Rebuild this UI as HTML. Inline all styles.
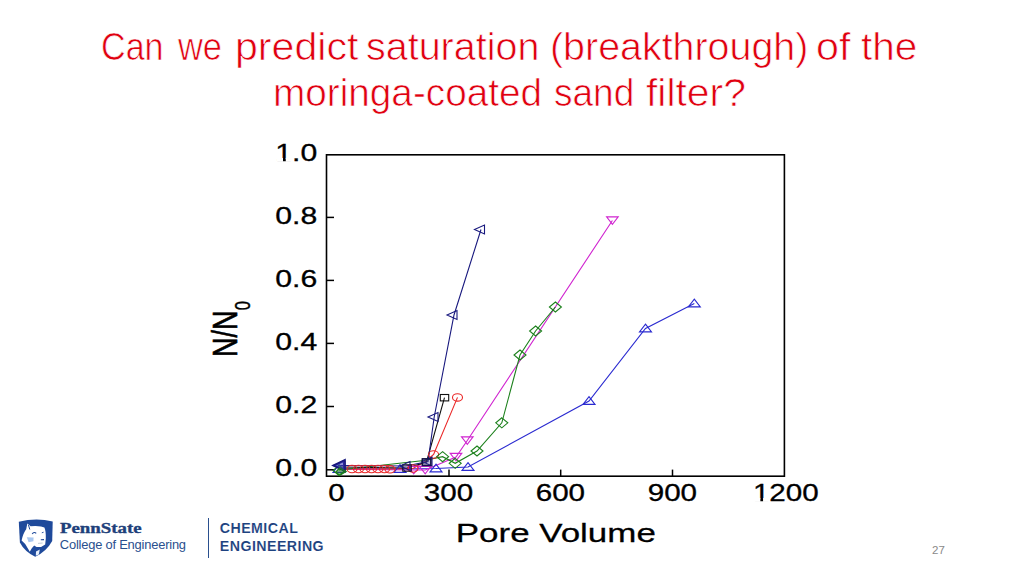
<!DOCTYPE html>
<html><head><meta charset="utf-8">
<style>
html,body{margin:0;padding:0;background:#fff;}
body{width:1024px;height:576px;position:relative;overflow:hidden;font-family:"Liberation Sans",sans-serif;}
.w{position:absolute;transform-origin:0 0;color:#e0000f;font-size:39px;white-space:nowrap;line-height:46px;-webkit-text-stroke:0.7px #fff;}
svg{position:absolute;left:0;top:0;}
</style></head><body>
<div class="w" style="left:101.2px;top:24.1px;transform:scaleX(0.875)">Can</div>
<div class="w" style="left:177.6px;top:24.1px;transform:scaleX(0.883)">we</div>
<div class="w" style="left:234.5px;top:24.1px;transform:scaleX(1.054)">predict</div>
<div class="w" style="left:366.3px;top:24.1px;transform:scaleX(1.012)">saturation</div>
<div class="w" style="left:549.7px;top:24.1px;transform:scaleX(1.010)">(breakthrough)</div>
<div class="w" style="left:816.4px;top:24.1px;transform:scaleX(1.058)">of</div>
<div class="w" style="left:861.2px;top:24.1px;transform:scaleX(1.038)">the</div>
<div class="w" style="left:273.1px;top:69.5px;transform:scaleX(0.993)">moringa-coated</div>
<div class="w" style="left:554.0px;top:69.5px;transform:scaleX(0.949)">sand</div>
<div class="w" style="left:645.5px;top:69.5px;transform:scaleX(1.048)">filter?</div>

<svg width="1024" height="576" viewBox="0 0 1024 576" font-family="Liberation Sans, sans-serif">
<!-- frame -->
<rect x="326.5" y="154.8" width="457.9" height="321.4" fill="none" stroke="#000" stroke-width="1.6"/>
<g stroke="#000" stroke-width="1.5">
<line x1="326" y1="217.4" x2="334" y2="217.4"/>
<line x1="326" y1="280.4" x2="334" y2="280.4"/>
<line x1="326" y1="343.4" x2="334" y2="343.4"/>
<line x1="326" y1="406.5" x2="334" y2="406.5"/>
<line x1="326" y1="469.8" x2="334" y2="469.8"/>
<line x1="449" y1="476" x2="449" y2="469.6"/>
<line x1="560.7" y1="476" x2="560.7" y2="469.6"/>
<line x1="672.5" y1="476" x2="672.5" y2="469.6"/>
</g>
<!-- y labels -->
<g font-size="23.5" fill="#000" stroke="#000" stroke-width="0.3" text-anchor="end">
<g transform="translate(317.3,160.5) scale(1.285,1)"><text>1.0</text><rect x="-31.9" y="-2.5" width="5.2" height="3.8" fill="#fff" stroke="none"/><rect x="-24.55" y="-2.5" width="4.9" height="3.8" fill="#fff" stroke="none"/></g>
<text transform="translate(317.3,224.2) scale(1.285,1)">0.8</text>
<text transform="translate(317.3,287.2) scale(1.285,1)">0.6</text>
<text transform="translate(317.3,349.9) scale(1.285,1)">0.4</text>
<text transform="translate(317.3,412.8) scale(1.285,1)">0.2</text>
<text transform="translate(317.3,476.1) scale(1.285,1)">0.0</text>
</g>
<g font-size="23.5" fill="#000" stroke="#000" stroke-width="0.3" text-anchor="middle">
<text transform="translate(336.4,500.6) scale(1.26,1)">0</text>
<text transform="translate(448.5,500.6) scale(1.26,1)">300</text>
<text transform="translate(560.4,500.6) scale(1.26,1)">600</text>
<text transform="translate(672.4,500.6) scale(1.26,1)">900</text>
<g transform="translate(785.8,500.6) scale(1.26,1)"><text>1200</text><rect x="-25.4" y="-2.5" width="5.2" height="3.8" fill="#fff" stroke="none"/><rect x="-18.05" y="-2.5" width="4.9" height="3.8" fill="#fff" stroke="none"/></g>
</g>
<text font-size="25.5" stroke="#000" stroke-width="0.25" text-anchor="middle" transform="translate(555.8,541.6) scale(1.37,1)">Pore Volume</text>
<text font-size="27" stroke="#000" stroke-width="0.5" transform="translate(237.3,357) scale(1.285,1) rotate(-90)">N/N<tspan font-size="16.5" stroke-width="0.3" dx="0.3" dy="10">0</tspan></text>

<!-- series -->
<g fill="none" stroke-width="1.1">
<polyline stroke="#2a2ad0" points="340,468.5 400,469 436,468.5 468,467 589,401 645.5,328.5 694.3,303.5"/>
<polyline stroke="#d024d0" points="340,469.2 413.7,470 425.2,470 456,457 467.3,440.5 612.4,220.5"/>
<polyline stroke="#ea2626" points="347,469 389,469 413,468.5 426,461 433.6,454.5 457.5,397.4"/>
<polyline stroke="#1c801c" points="339,470 424,460.5 442.6,456.7 455.2,463.3 477,451 501.8,422.8 520,355 535.6,331 555.4,307"/>
<polyline stroke="#101010" points="340,467 407,468 426.5,462 444.5,397.7"/>
<polyline stroke="#18187e" points="340,465.5 406,466 428,461.5 434.2,417 454,315 481,229.5"/>
</g>
<g id="markers" fill="none" stroke-width="1.1"><path d="M339.0,464.7 L345.0,472.4 L333.0,472.4 Z" stroke="#2a2ad0"/><path d="M400.0,464.7 L406.0,472.4 L394.0,472.4 Z" stroke="#2a2ad0"/><path d="M436.0,464.2 L442.0,471.9 L430.0,471.9 Z" stroke="#2a2ad0"/><path d="M468.0,462.7 L474.0,470.4 L462.0,470.4 Z" stroke="#2a2ad0"/><path d="M589.0,396.7 L595.0,404.4 L583.0,404.4 Z" stroke="#2a2ad0"/><path d="M645.5,324.2 L651.5,331.9 L639.5,331.9 Z" stroke="#2a2ad0"/><path d="M694.3,299.2 L700.3,306.9 L688.3,306.9 Z" stroke="#2a2ad0"/><path d="M407.9,466.4 L419.5,466.4 L413.7,473.8 Z" stroke="#d024d0"/><path d="M419.4,466.4 L431.0,466.4 L425.2,473.8 Z" stroke="#d024d0"/><path d="M450.2,453.4 L461.8,453.4 L456.0,460.8 Z" stroke="#d024d0"/><path d="M461.5,436.9 L473.1,436.9 L467.3,444.3 Z" stroke="#d024d0"/><path d="M606.6,216.9 L618.2,216.9 L612.4,224.3 Z" stroke="#d024d0"/><ellipse cx="352.0" cy="469.0" rx="5" ry="3.7" stroke="#ea2626"/><ellipse cx="358.5" cy="469.0" rx="5" ry="3.7" stroke="#ea2626"/><ellipse cx="365.0" cy="469.0" rx="5" ry="3.7" stroke="#ea2626"/><ellipse cx="371.5" cy="469.0" rx="5" ry="3.7" stroke="#ea2626"/><ellipse cx="378.0" cy="469.0" rx="5" ry="3.7" stroke="#ea2626"/><ellipse cx="384.5" cy="469.0" rx="5" ry="3.7" stroke="#ea2626"/><ellipse cx="390.0" cy="469.3" rx="5" ry="3.7" stroke="#ea2626"/><ellipse cx="413.0" cy="468.5" rx="5" ry="3.7" stroke="#ea2626"/><ellipse cx="433.6" cy="454.5" rx="5" ry="3.7" stroke="#ea2626"/><ellipse cx="457.5" cy="397.4" rx="5" ry="3.7" stroke="#ea2626"/><path d="M339.0,465.5 L345.0,470.5 L339.0,475.5 L333.0,470.5 Z" stroke="#1c801c"/><path d="M442.6,451.7 L448.6,456.7 L442.6,461.7 L436.6,456.7 Z" stroke="#1c801c"/><path d="M455.2,458.3 L461.2,463.3 L455.2,468.3 L449.2,463.3 Z" stroke="#1c801c"/><path d="M477.0,446.0 L483.0,451.0 L477.0,456.0 L471.0,451.0 Z" stroke="#1c801c"/><path d="M501.8,417.8 L507.8,422.8 L501.8,427.8 L495.8,422.8 Z" stroke="#1c801c"/><path d="M520.0,350.0 L526.0,355.0 L520.0,360.0 L514.0,355.0 Z" stroke="#1c801c"/><path d="M535.6,326.0 L541.6,331.0 L535.6,336.0 L529.6,331.0 Z" stroke="#1c801c"/><path d="M555.4,302.0 L561.4,307.0 L555.4,312.0 L549.4,307.0 Z" stroke="#1c801c"/><rect x="402.8" y="464.8" width="8.4" height="6.4" stroke="#101010"/><rect x="422.3" y="458.8" width="8.4" height="6.4" stroke="#101010"/><rect x="440.3" y="394.5" width="8.4" height="6.4" stroke="#101010"/><path d="M333.5,465.5 L343.5,461.0 L343.5,470.0 Z" stroke="#18187e"/><path d="M335.0,465.5 L345.0,461.0 L345.0,470.0 Z" stroke="#18187e"/><path d="M400.0,466.0 L410.0,461.5 L410.0,470.5 Z" stroke="#18187e"/><path d="M422.0,461.5 L432.0,457.0 L432.0,466.0 Z" stroke="#18187e"/><path d="M428.0,417.0 L438.0,412.5 L438.0,421.5 Z" stroke="#18187e"/><path d="M447.0,315.0 L457.0,310.5 L457.0,319.5 Z" stroke="#18187e"/><path d="M474.5,229.5 L484.5,225.0 L484.5,234.0 Z" stroke="#18187e"/><path d="M333,465.5 L345,459.8 L345,471.2 Z" fill="#3a3ab8" fill-opacity="0.55" stroke="#18187e" stroke-width="1.6"/><path d="M336,472 L339.5,468 L346,471.5 L339.5,475.5 Z" fill="#1a7a1a" fill-opacity="0.5" stroke="#1c801c" stroke-width="1.3"/><path d="M422.3,458.8 L431,458.8 L431,465.6 L422.3,465.6 Z" fill="#3a3a8a" fill-opacity="0.35" stroke="#10104a" stroke-width="1.2"/></g>
</svg>

<!-- footer -->
<svg width="60" height="60" style="left:0;top:505px" viewBox="0 505 60 60">
<path d="M18.8,521.7 Q36,517.6 52.7,521.4 L52.2,541 Q46.5,551.5 35.2,556.8 Q24.5,551.5 19.9,542.5 Z" fill="#1f4a9b"/>
<path d="M27.3,523.6 L30.6,526.2 Q36.5,525.6 41,526.4 L44.4,527.6 Q46,531 45.8,538.5 L45.2,544.4 Q41.5,547.6 36.5,547 L34.2,545.6 L31.8,548.2 L29.8,551.8 L27.6,548 L25.2,544 L21.6,540.6 Q23.2,533 26.2,529.3 Z" fill="#fff"/>
<path d="M36,551.5 L39.8,549.5 L38.8,554.5 L35.8,555.8 Z" fill="#e8f0fb"/>
<path d="M26.8,537.3 L33.6,537.6 L33.4,541.2 L28.6,542.2 Z" fill="#a9c7ef"/>
<path d="M32.2,534 Q34.2,531.3 36.2,533.4" stroke="#1f4a9b" stroke-width="1.2" fill="none"/>
<path d="M40.8,539.8 L44,539.6" stroke="#1f4a9b" stroke-width="1.1"/>
<path d="M41.8,532.8 L43.6,532.2" stroke="#1f4a9b" stroke-width="0.9"/>
<path d="M38,543.4 L42.6,543" stroke="#9ab" stroke-width="0.6"/>
<path d="M28.4,524.8 L29.8,529.5" stroke="#1f4a9b" stroke-width="1"/>
</svg>
<div style="position:absolute;left:59.5px;top:519px;font-family:'Liberation Serif',serif;font-weight:bold;font-size:15.5px;color:#1e3f7a;white-space:nowrap;-webkit-text-stroke:0.35px #1e3f7a;transform:scaleX(1.215);transform-origin:0 0">PennState</div>
<div style="position:absolute;left:59.8px;top:537.3px;font-size:12.9px;color:#2a4f8e;white-space:nowrap;letter-spacing:-0.2px">College of Engineering</div>
<div style="position:absolute;left:208px;top:518px;width:1.2px;height:40px;background:#2a4f8e"></div>
<div style="position:absolute;left:219.8px;top:519.4px;font-size:14.2px;font-weight:bold;color:#1d4280;white-space:nowrap;line-height:18.1px;letter-spacing:0.45px;-webkit-text-stroke:0.1px #fff">CHEMICAL<br>ENGINEERING</div>
<div style="position:absolute;left:932px;top:543.6px;font-size:11.5px;color:#8a8a8a">27</div>
</body></html>
